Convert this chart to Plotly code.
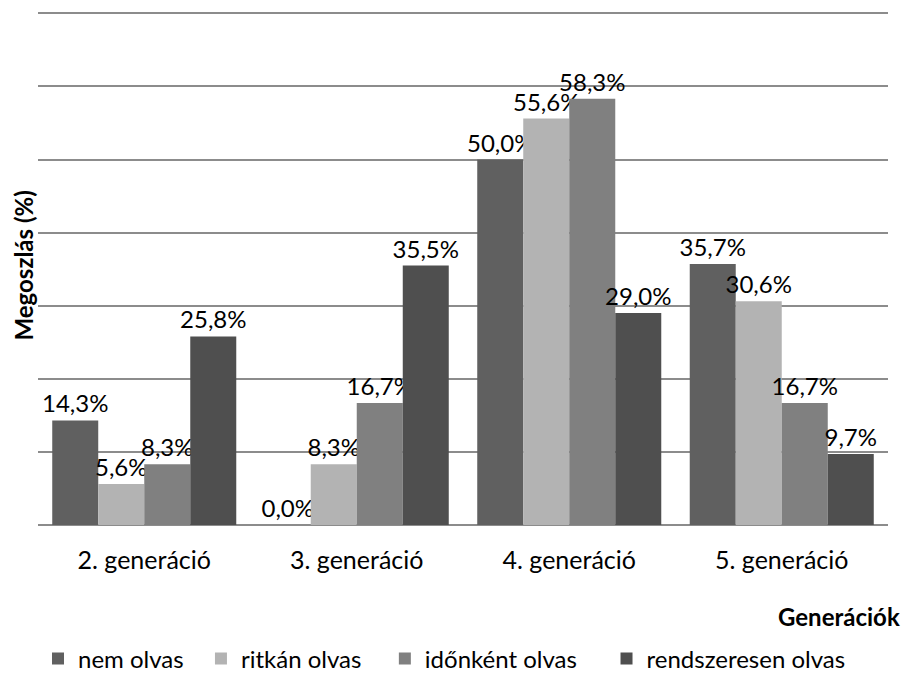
import plotly.graph_objects as go

categories = ["2. generáció", "3. generáció", "4. generáció", "5. generáció"]
series_names = ["nem olvas", "ritkán olvas", "időnként olvas", "rendszeresen olvas"]
nem_olvas = [14.3, 0.0, 50.0, 35.7]
ritkan_olvas = [5.6, 8.3, 55.6, 30.6]
idonkent_olvas = [8.3, 16.7, 58.3, 16.7]
rendszeresen_olvas = [25.8, 35.5, 29.0, 9.7]
colors = ["#606060", "#b3b3b3", "#808080", "#4f4f4f"]
legend_pad = [2, 3, 4, 0]  # trailing spacing after each legend entry

FONT = "Lato, 'Open Sans', sans-serif"
FS = 24

fig = go.Figure()
for name, vals, c, pad in zip(series_names,
                              [nem_olvas, ritkan_olvas, idonkent_olvas, rendszeresen_olvas],
                              colors, legend_pad):
    fig.add_trace(go.Bar(
        x=categories, y=vals, name=name + "\u00a0" * pad, marker_color=c, marker_line_width=0,
        text=[f"{v:.1f}%".replace(".", ",") for v in vals],
        textposition="outside", cliponaxis=False, constraintext="none",
        textfont=dict(size=FS, color="#000000", family=FONT),
        hoverinfo="skip",
    ))

fig.update_layout(
    width=907, height=683,
    margin=dict(l=38, r=19, t=6, b=158, autoexpand=False),
    plot_bgcolor="white", paper_bgcolor="white",
    barmode="group", bargap=0.134, bargroupgap=0,
    font=dict(family=FONT, size=FS, color="#000000"),
    showlegend=True,
    legend=dict(orientation="h", x=0.0, xanchor="left", y=-0.258, yanchor="middle",
                font=dict(size=FS), traceorder="normal", itemwidth=30),
    xaxis=dict(showgrid=False, showline=False, ticks="", tickfont=dict(size=25),
               ticklabelstandoff=18),
    yaxis=dict(range=[0, 71], dtick=10, showticklabels=False, showgrid=True,
               gridcolor="#8c8c8c", gridwidth=2, zeroline=True, zerolinecolor="#8c8c8c",
               zerolinewidth=2, showline=False, ticks=""),
    annotations=[
        dict(text="<b>Megoszlás (%)</b>", xref="paper", yref="paper", x=-0.0176, y=0.5,
             xanchor="center", yanchor="middle", textangle=-90, showarrow=False,
             font=dict(size=FS)),
        dict(text="<b>Generációk</b>", xref="paper", yref="paper", x=1.017, y=-0.176,
             xanchor="right", yanchor="middle", showarrow=False, font=dict(size=FS)),
    ],
)

fig.write_html("out.html", config={"displayModeBar": False},
               post_script="document.body.style.margin='0';document.body.style.overflow='hidden';")
